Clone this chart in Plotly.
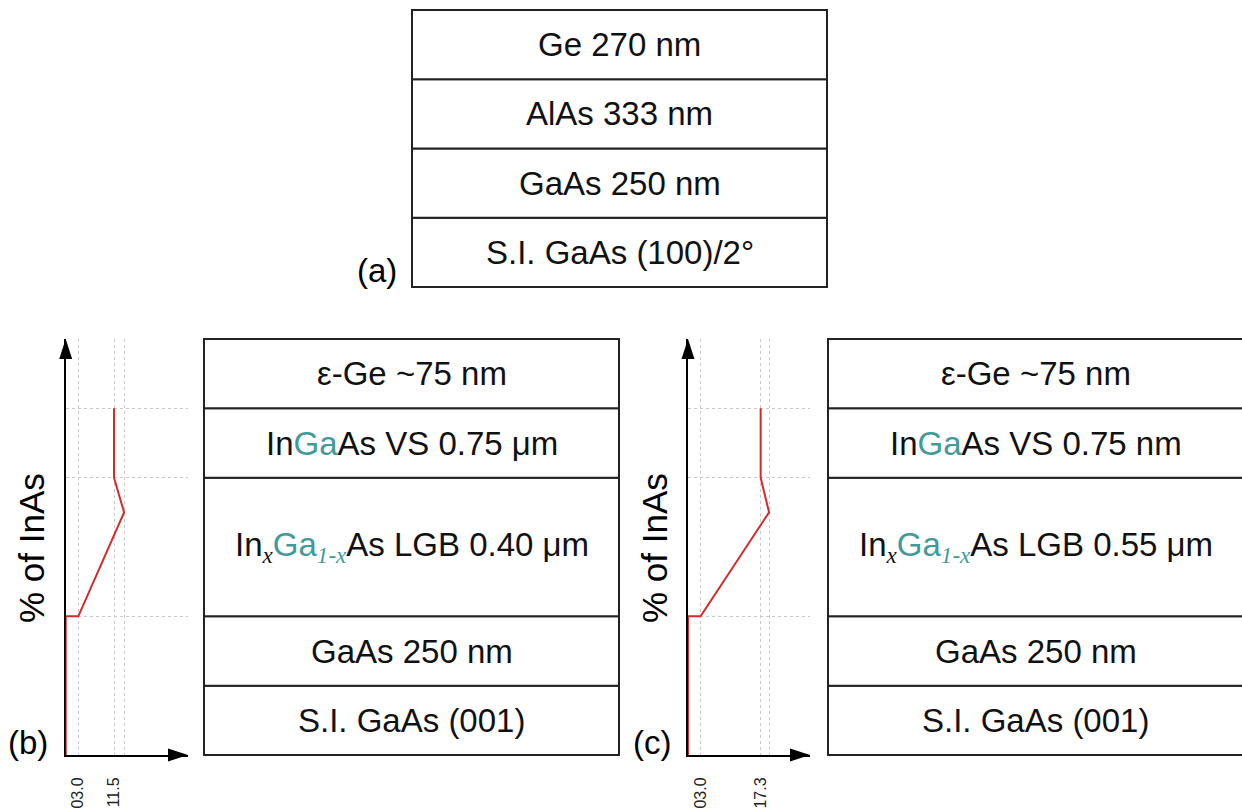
import plotly.graph_objects as go

W, H = 1242, 812
TEAL = "#3f9b98"
RED = "#d42a2a"
FONT = "Liberation Sans, Arial, sans-serif"

# ---------------- data ----------------
# layer stacks, listed from substrate (bottom) to surface (top)
a_layers = ["S.I. GaAs (100)/2°", "GaAs 250 nm", "AlAs 333 nm", "Ge 270 nm"]
a_heights = [1, 1, 1, 1]

SUBX = "<sub><i><span style='font-family:Liberation Serif'>x</span></i></sub>"
SUB1X = "<sub><i><span style='font-family:Liberation Serif'>1-x</span></i></sub>"
GA = "<span style='color:%s'>Ga</span>" % TEAL
GA1X = "<span style='color:%s'>Ga%s</span>" % (TEAL, SUB1X)

b_layers = ["S.I. GaAs (001)", "GaAs 250 nm",
            "In" + SUBX + GA1X + "As LGB 0.40 μm",
            "In" + GA + "As VS 0.75 μm", "ε-Ge ~75 nm"]
b_heights = [1, 1, 2, 1, 1]

c_layers = ["S.I. GaAs (001)", "GaAs 250 nm",
            "In" + SUBX + GA1X + "As LGB 0.55 μm",
            "In" + GA + "As VS 0.75 nm", "ε-Ge ~75 nm"]
c_heights = [1, 1, 2, 1, 1]

# InAs composition profile (position in layer units vs % InAs)
prof_pos = [0, 2, 2, 3.5, 4, 5]
b_inas = [0, 0, 3.0, 13.9, 11.5, 11.5]
c_inas = [0, 0, 3.0, 19.3, 17.3, 17.3]
b_tickvals = [3.0, 11.5, 13.9]
b_ticktext = ["03.0", "11.5", ""]
c_tickvals = [3.0, 17.3, 19.3]
c_ticktext = ["03.0", "17.3", ""]
grid_pos = [2, 4, 5, 6]

# ---------------- layout helpers ----------------
def xdom(l, r):
    return [max(0, l / W), min(1, r / W)]

def ydom(top, bottom):
    return [1 - bottom / H, 1 - top / H]

fig = go.Figure()
annotations = []

def add_stack(layers, heights, ax, ay, xl, xr, yt, yb):
    pad = 2
    width = xr - xl
    unit = (yb - yt) / sum(heights)
    x0 = -pad / width
    x1 = (min(W, xr + pad) - xl) / width
    base = 0
    for name, h in zip(layers, heights):
        fig.add_trace(go.Bar(x=[0.5], y=[h], base=[base], width=[1],
                             marker=dict(color="white", line=dict(color="#222", width=2)),
                             xaxis=ax, yaxis=ay, showlegend=False, hoverinfo="skip"))
        annotations.append(dict(x=0.5, y=base + h / 2, xref=ax, yref=ay, text=name,
                                xanchor="center", yanchor="middle",
                                showarrow=False, font=dict(size=33, color="#111", family=FONT)))
        base += h
    total = sum(heights)
    ymin = -pad / unit
    ymax = total + pad / unit
    kx = "xaxis" + ax[1:]
    ky = "yaxis" + ay[1:]
    fig.layout[kx] = dict(domain=xdom(xl - pad, min(W, xr + pad)), range=[x0, x1], visible=False,
                          anchor=ay, fixedrange=True)
    fig.layout[ky] = dict(domain=ydom(yt - pad, yb + pad), range=[ymin, ymax], visible=False,
                          anchor=ax, fixedrange=True)

add_stack(a_layers, a_heights, "x", "y", 412, 827, 10, 287)
add_stack(b_layers, b_heights, "x2", "y2", 204, 619, 339, 755)
add_stack(c_layers, c_heights, "x3", "y3", 828, 1243, 339, 755)

def add_profile(inas, tickvals, ticktext, ax, ay, x_axis_px, x_right_px):
    pxu = 4.2
    xmax = (x_right_px - x_axis_px) / pxu
    kx = "xaxis" + ax[1:]
    ky = "yaxis" + ay[1:]
    grid = dict(showgrid=True, gridcolor="#c9c9c9", gridwidth=1, griddash="3px,3px")
    fig.layout[kx] = dict(domain=xdom(x_axis_px, x_right_px), range=[0, xmax], anchor=ay,
                          tickvals=tickvals, ticktext=ticktext, tickangle=-90,
                          tickfont=dict(size=16, color="#222", family=FONT),
                          ticks="", ticklabelstandoff=14, showline=True, linecolor="black",
                          linewidth=2, layer="below traces", zeroline=False, fixedrange=True, **grid)
    fig.layout[ky] = dict(domain=ydom(339, 755), range=[0, 6], anchor=ax,
                          tickvals=grid_pos, showticklabels=False, ticks="",
                          showline=True, linecolor="black", linewidth=2,
                          layer="below traces", zeroline=False, fixedrange=True, **grid)
    fig.add_trace(go.Scatter(x=inas, y=prof_pos, mode="lines",
                             line=dict(color=RED, width=2), cliponaxis=False,
                             xaxis=ax, yaxis=ay, showlegend=False, hoverinfo="skip"))
    # arrow heads at axis ends
    fig.add_trace(go.Scatter(x=[0, xmax], y=[6, 0], mode="markers", cliponaxis=False,
                             marker=dict(symbol="arrow", angle=[0, 90], size=21, color="black",
                                         line=dict(width=0)),
                             xaxis=ax, yaxis=ay, showlegend=False, hoverinfo="skip"))

add_profile(b_inas, b_tickvals, b_ticktext, "x4", "y4", 65.7, 188)
add_profile(c_inas, c_tickvals, c_ticktext, "x5", "y5", 688, 810)

# axis titles and panel labels
for xp in (31, 654):
    annotations.append(dict(x=xp / W, y=1 - 548 / H, xref="paper", yref="paper",
                            xanchor="center", yanchor="middle",
                            text="% of InAs", textangle=-90, showarrow=False,
                            font=dict(size=35, color="black", family=FONT)))
for txt, xp, yp in (("(a)", 377, 270), ("(b)", 28, 742), ("(c)", 652, 742)):
    annotations.append(dict(x=xp / W, y=1 - yp / H, xref="paper", yref="paper",
                            xanchor="center", yanchor="middle",
                            text=txt, showarrow=False,
                            font=dict(size=33, color="black", family=FONT)))

fig.update_layout(width=W, height=H, margin=dict(l=0, r=0, t=0, b=0),
                  paper_bgcolor="white", plot_bgcolor="rgba(0,0,0,0)",
                  barmode="overlay", annotations=annotations, font=dict(family=FONT))

fig.write_html("out.html", config={"displayModeBar": False})
